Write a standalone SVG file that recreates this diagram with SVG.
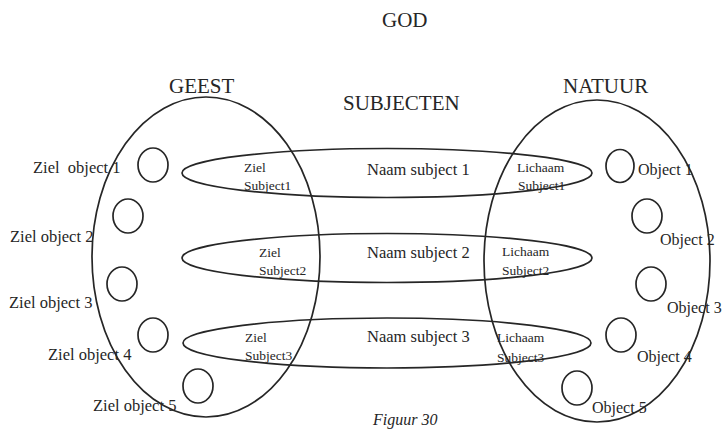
<svg xmlns="http://www.w3.org/2000/svg" width="723" height="436" viewBox="0 0 723 436">
<style>
text{font-family:"Liberation Serif","Times New Roman",serif;fill:#262626}
.big{font-size:21px}
.lbl{font-size:16.5px}
.obj{font-size:16px}
.sm{font-size:13.5px}
.shape{fill:none;stroke:#262626;stroke-width:1.7}
.c{fill:none;stroke:#262626;stroke-width:1.7}
</style>
<rect width="723" height="436" fill="#ffffff"/>
<text class="big" x="382" y="27">GOD</text>
<g id="geest">
<ellipse class="shape" cx="206" cy="257" rx="114" ry="160"/>
<text class="big" x="169" y="93">GEEST</text>
</g>
<g id="natuur">
<ellipse class="shape" cx="597" cy="261" rx="113" ry="161"/>
<text class="big" x="563" y="93">NATUUR</text>
</g>
<text class="big" x="343" y="110">SUBJECTEN</text>
<g id="subject1">
<ellipse class="shape" cx="387" cy="173" rx="205" ry="24.5"/>
<text class="lbl" x="367" y="175">Naam subject 1</text>
<text class="sm" x="244" y="172">Ziel</text>
<text class="sm" x="244" y="190">Subject1</text>
<text class="sm" x="517" y="172">Lichaam</text>
<text class="sm" x="518" y="190">Subject1</text>
</g>
<g id="subject2">
<ellipse class="shape" cx="387" cy="258" rx="205" ry="24.5"/>
<text class="lbl" x="367" y="258">Naam subject 2</text>
<text class="sm" x="259" y="257">Ziel</text>
<text class="sm" x="259" y="275">Subject2</text>
<text class="sm" x="502" y="256">Lichaam</text>
<text class="sm" x="502" y="275">Subject2</text>
</g>
<g id="subject3">
<ellipse class="shape" cx="387" cy="343" rx="204" ry="25"/>
<text class="lbl" x="367" y="342">Naam subject 3</text>
<text class="sm" x="245" y="342">Ziel</text>
<text class="sm" x="245" y="360">Subject3</text>
<text class="sm" x="497" y="342">Lichaam</text>
<text class="sm" x="497" y="362">Subject3</text>
</g>
<g id="ziel-object-1"><ellipse class="c" cx="153" cy="165" rx="15" ry="17"/><text class="lbl" x="33" y="173" xml:space="preserve">Ziel  object 1</text></g>
<g id="ziel-object-2"><ellipse class="c" cx="128" cy="216" rx="15" ry="17"/><text class="lbl" x="10" y="242">Ziel object 2</text></g>
<g id="ziel-object-3"><ellipse class="c" cx="122" cy="284" rx="15" ry="17"/><text class="lbl" x="9" y="308">Ziel object 3</text></g>
<g id="ziel-object-4"><ellipse class="c" cx="153" cy="335" rx="15" ry="17"/><text class="lbl" x="48" y="360">Ziel object 4</text></g>
<g id="ziel-object-5"><ellipse class="c" cx="198" cy="386" rx="15" ry="17"/><text class="lbl" x="93" y="411">Ziel object 5</text></g>
<g id="object-1"><ellipse class="c" cx="620" cy="166" rx="14" ry="16.5"/><text class="obj" x="638" y="175">Object 1</text></g>
<g id="object-2"><ellipse class="c" cx="647" cy="216" rx="15" ry="17"/><text class="obj" x="660" y="245">Object 2</text></g>
<g id="object-3"><ellipse class="c" cx="651" cy="284" rx="15" ry="17"/><text class="obj" x="667" y="313">Object 3</text></g>
<g id="object-4"><ellipse class="c" cx="621" cy="335" rx="15" ry="17"/><text class="obj" x="637" y="362">Object 4</text></g>
<g id="object-5"><ellipse class="c" cx="577" cy="388" rx="15" ry="17"/><text class="obj" x="592" y="413">Object 5</text></g>
<text class="obj" x="373" y="425" font-style="italic">Figuur 30</text>
</svg>
